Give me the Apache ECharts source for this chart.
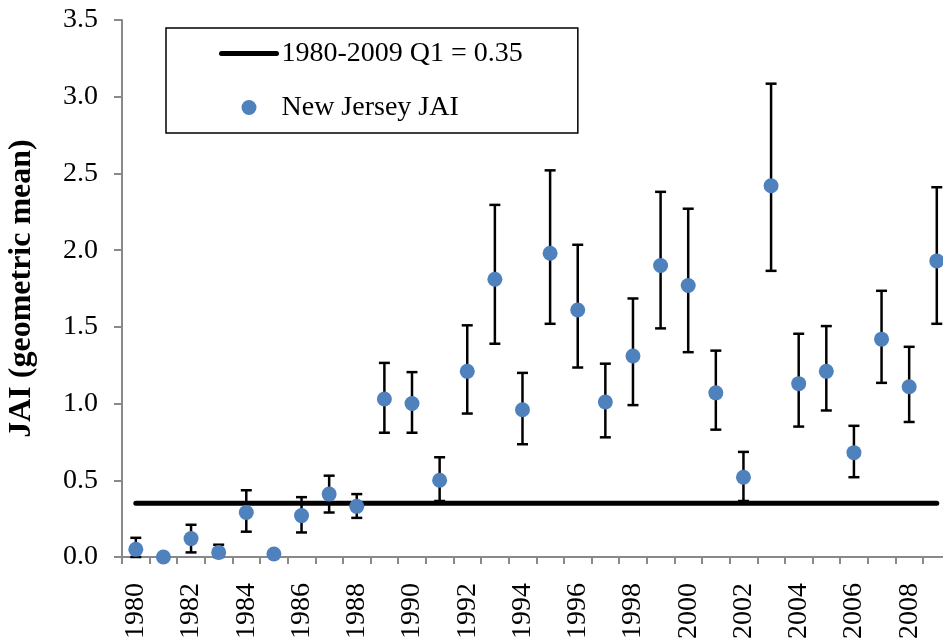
<!DOCTYPE html>
<html>
<head>
<meta charset="utf-8">
<script src="https://cdn.jsdelivr.net/npm/echarts@6/dist/echarts.min.js"></script>
<style>
  html, body { margin: 0; padding: 0; background: #ffffff; }
  #chart { width: 943px; height: 642px; }
</style>
</head>
<body>
<div id="chart"></div>
<script>
// Survey years
const years = [
  '1980','1981','1982','1983','1984','1985','1986','1987','1988','1989',
  '1990','1991','1992','1993','1994','1995','1996','1997','1998','1999',
  '2000','2001','2002','2003','2004','2005','2006','2007','2008','2009'
];

// New Jersey juvenile abundance index (geometric mean)
const jaiValues = [
  0.05, 0.00, 0.12, 0.03, 0.29, 0.02, 0.27, 0.41, 0.33, 1.03,
  1.00, 0.50, 1.21, 1.81, 0.96, 1.98, 1.61, 1.01, 1.31, 1.90,
  1.77, 1.07, 0.52, 2.42, 1.13, 1.21, 0.68, 1.42, 1.11, 1.93
];

// Lower and upper confidence limits (null = no interval shown)
const lowerCI = [
  0.00, null, 0.03, 0.00, 0.165, null, 0.16, 0.29, 0.255, 0.81,
  0.81, 0.365, 0.935, 1.39, 0.735, 1.52, 1.235, 0.78, 0.99, 1.49,
  1.335, 0.83, 0.365, 1.865, 0.85, 0.955, 0.52, 1.135, 0.88, 1.52
];
const upperCI = [
  0.125, null, 0.21, 0.08, 0.435, null, 0.39, 0.53, 0.41, 1.265,
  1.205, 0.65, 1.51, 2.295, 1.20, 2.52, 2.035, 1.26, 1.685, 2.38,
  2.27, 1.345, 0.685, 3.085, 1.455, 1.505, 0.855, 1.735, 1.37, 2.41
];

// Reference level: 1980-2009 first quartile
const q1Level = 0.35;
const q1Values = years.map(() => q1Level);

const yTicks = { min: 0, max: 3.5, interval: 0.5 };

const lineName = '1980-2009 Q1 = 0.35';
const pointName = 'New Jersey JAI';

const errorData = [];
years.forEach((y, i) => {
  if (lowerCI[i] !== null && upperCI[i] !== null) {
    errorData.push([i, lowerCI[i], upperCI[i]]);
  }
});

const serif = "'Liberation Serif', 'Times New Roman', serif";
const axisGray = '#898989';
const labelSize = 28;

const chart = echarts.init(document.getElementById('chart'));
chart.setOption({
  animation: false,
  backgroundColor: '#ffffff',
  textStyle: { fontFamily: serif, fontSize: labelSize, color: '#000000' },
  grid: { left: 122, top: 20, bottom: 85, right: -7.6, containLabel: false, outerBoundsMode: 'none' },
  legend: {
    orient: 'vertical',
    left: 166,
    top: 28,
    padding: [11.5, 55, 11.5, 53],
    itemGap: 26,
    itemWidth: 55,
    itemHeight: 15,
    backgroundColor: '#ffffff',
    borderColor: '#000000',
    borderWidth: 1.5,
    textStyle: { fontFamily: serif, fontSize: labelSize, color: '#000000', lineHeight: 27 },
    data: [
      {
        name: lineName,
        itemStyle: { color: 'rgba(0,0,0,0)', borderColor: 'rgba(0,0,0,0)', borderWidth: 0 },
        lineStyle: { color: '#000000', width: 5, cap: 'round' }
      },
      { name: pointName, icon: 'circle' }
    ]
  },
  xAxis: {
    type: 'category',
    data: years,
    boundaryGap: true,
    axisLine: { lineStyle: { color: axisGray, width: 2 } },
    axisTick: { show: true, length: 7, alignWithLabel: false, interval: 0, lineStyle: { color: axisGray, width: 2 } },
    axisLabel: {
      interval: 1,
      rotate: 90,
      margin: 26,
      fontFamily: serif,
      fontSize: labelSize,
      color: '#000000'
    },
    splitLine: { show: false }
  },
  yAxis: {
    type: 'value',
    min: yTicks.min,
    max: yTicks.max,
    interval: yTicks.interval,
    name: 'JAI (geometric mean)',
    nameLocation: 'middle',
    nameGap: 84,
    nameTextStyle: { fontFamily: serif, fontSize: 32, fontWeight: 'bold', color: '#000000' },
    axisLine: { show: true, lineStyle: { color: axisGray, width: 2 } },
    axisTick: { show: true, length: 8, lineStyle: { color: axisGray, width: 2 } },
    axisLabel: {
      margin: 24,
      fontFamily: serif,
      fontSize: labelSize,
      color: '#000000',
      formatter: v => v.toFixed(1)
    },
    splitLine: { show: false }
  },
  series: [
    {
      name: lineName,
      type: 'line',
      data: q1Values,
      symbol: 'none',
      z: 2,
      lineStyle: { color: '#000000', width: 5, cap: 'round' },
      itemStyle: { color: '#000000' }
    },
    {
      name: 'CI',
      type: 'custom',
      z: 3,
      data: errorData,
      encode: { x: 0, y: [1, 2] },
      renderItem: function (params, api) {
        const xi = api.value(0);
        const lo = api.coord([xi, api.value(1)]);
        const hi = api.coord([xi, api.value(2)]);
        const half = 5.5;
        const style = { stroke: '#000000', lineWidth: 2.5, fill: null };
        return {
          type: 'group',
          children: [
            { type: 'line', shape: { x1: lo[0], y1: lo[1], x2: hi[0], y2: hi[1] }, style: style },
            { type: 'line', shape: { x1: lo[0] - half, y1: lo[1], x2: lo[0] + half, y2: lo[1] }, style: style },
            { type: 'line', shape: { x1: hi[0] - half, y1: hi[1], x2: hi[0] + half, y2: hi[1] }, style: style }
          ]
        };
      }
    },
    {
      name: pointName,
      type: 'scatter',
      data: jaiValues,
      symbol: 'circle',
      symbolSize: 15,
      z: 4,
      itemStyle: { color: '#4F81BD', opacity: 1 }
    }
  ]
});
</script>
</body>
</html>
